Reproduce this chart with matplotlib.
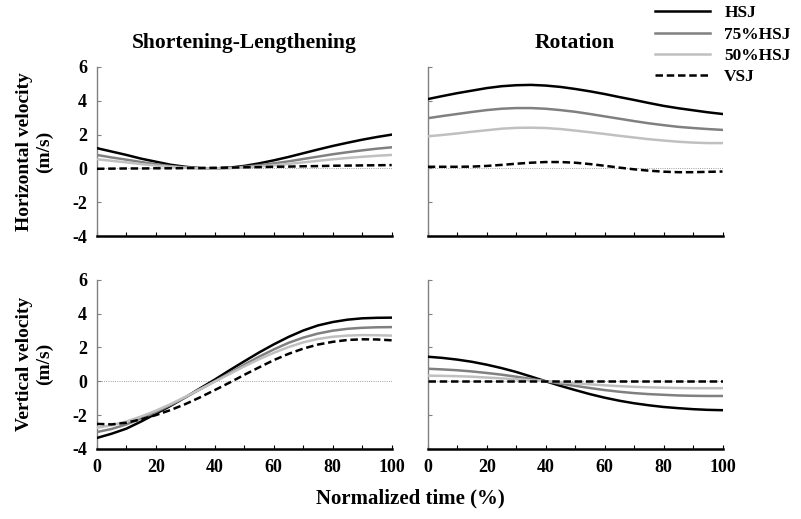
import numpy as np
import matplotlib.pyplot as plt

plt.rcParams['font.family'] = ['Liberation Serif', 'DejaVu Serif']
plt.rcParams['font.weight'] = 'bold'
plt.rcParams['axes.unicode_minus'] = False

# normalized time (%)
t = np.arange(0, 101, 5)

# horizontal velocity, shortening-lengthening (m/s)
h_sl_hsj = [1.2, 1.0, 0.8, 0.58, 0.4, 0.22, 0.1, 0.02, 0.0, 0.05, 0.15, 0.3, 0.48,
            0.68, 0.9, 1.12, 1.33, 1.52, 1.7, 1.86, 2.0]
h_sl_75 = [0.8, 0.65, 0.52, 0.38, 0.25, 0.14, 0.06, 0.01, 0.0, 0.03, 0.1, 0.19, 0.3,
           0.42, 0.56, 0.7, 0.84, 0.96, 1.07, 1.17, 1.25]
h_sl_50 = [0.55, 0.45, 0.36, 0.26, 0.17, 0.1, 0.04, 0.01, 0.0, 0.02, 0.06, 0.12, 0.19,
           0.27, 0.36, 0.45, 0.54, 0.62, 0.69, 0.75, 0.8]
h_sl_vsj = [-0.02, -0.01, 0.0, 0.0, 0.01, 0.01, 0.02, 0.03, 0.04, 0.05, 0.07, 0.08, 0.1,
            0.11, 0.13, 0.14, 0.16, 0.17, 0.18, 0.19, 0.2]

# horizontal velocity, rotation (m/s)
h_rot_hsj = [4.1, 4.28, 4.45, 4.6, 4.75, 4.86, 4.92, 4.94, 4.9, 4.82, 4.7, 4.56, 4.4,
             4.22, 4.05, 3.87, 3.7, 3.56, 3.44, 3.32, 3.22]
h_rot_75 = [2.97, 3.1, 3.22, 3.34, 3.45, 3.53, 3.57, 3.57, 3.53, 3.45, 3.35, 3.22, 3.08,
            2.94, 2.8, 2.67, 2.56, 2.46, 2.39, 2.33, 2.28]
h_rot_50 = [1.9, 1.98, 2.07, 2.17, 2.26, 2.35, 2.4, 2.41, 2.39, 2.33, 2.24, 2.14, 2.04,
            1.93, 1.83, 1.73, 1.65, 1.58, 1.53, 1.5, 1.5]
h_rot_vsj = [0.1, 0.1, 0.1, 0.11, 0.15, 0.21, 0.28, 0.34, 0.38, 0.38, 0.34, 0.26, 0.16,
             0.05, -0.05, -0.13, -0.19, -0.22, -0.22, -0.2, -0.18]

# vertical velocity, shortening-lengthening (m/s)
v_sl_hsj = [-3.35, -3.1, -2.8, -2.38, -1.92, -1.45, -0.95, -0.42, 0.1, 0.65, 1.18, 1.7,
            2.18, 2.62, 3.0, 3.3, 3.5, 3.64, 3.72, 3.75, 3.76]
v_sl_75 = [-3.0, -2.82, -2.55, -2.2, -1.82, -1.4, -0.95, -0.48, 0.0, 0.48, 0.98, 1.45,
           1.88, 2.27, 2.58, 2.82, 2.99, 3.1, 3.16, 3.19, 3.2]
v_sl_50 = [-2.75, -2.6, -2.38, -2.08, -1.74, -1.35, -0.92, -0.47, -0.02, 0.43, 0.88, 1.3,
           1.68, 2.02, 2.3, 2.5, 2.63, 2.7, 2.73, 2.72, 2.7]
v_sl_vsj = [-2.52, -2.55, -2.45, -2.25, -2.0, -1.7, -1.35, -0.95, -0.52, -0.08, 0.38, 0.82,
            1.25, 1.62, 1.93, 2.17, 2.33, 2.44, 2.48, 2.47, 2.42]

# vertical velocity, rotation (m/s)
v_rot_hsj = [1.45, 1.38, 1.28, 1.15, 0.98, 0.78, 0.55, 0.28, 0.0, -0.27, -0.52, -0.76,
             -0.97, -1.15, -1.3, -1.42, -1.52, -1.59, -1.65, -1.69, -1.71]
v_rot_75 = [0.74, 0.7, 0.65, 0.58, 0.49, 0.39, 0.27, 0.14, 0.0, -0.14, -0.27, -0.4,
            -0.52, -0.62, -0.7, -0.76, -0.8, -0.84, -0.86, -0.87, -0.87]
v_rot_50 = [0.33, 0.32, 0.3, 0.27, 0.22, 0.17, 0.12, 0.06, 0.0, -0.06, -0.12, -0.18,
            -0.24, -0.29, -0.33, -0.36, -0.38, -0.4, -0.41, -0.41, -0.41]
v_rot_vsj = [0.0] * 21

labels = ['HSJ', '75%HSJ', '50%HSJ', 'VSJ']
colors = ['black', '#808080', '#c0c0c0', 'black']
styles = ['-', '-', '-', '--']

panels = [
    [h_sl_hsj, h_sl_75, h_sl_50, h_sl_vsj],
    [h_rot_hsj, h_rot_75, h_rot_50, h_rot_vsj],
    [v_sl_hsj, v_sl_75, v_sl_50, v_sl_vsj],
    [v_rot_hsj, v_rot_75, v_rot_50, v_rot_vsj],
]

fs = 14
fig = plt.figure(figsize=(8.01, 5.19), dpi=100)
lefts = [0.121, 0.534]
bottoms = [0.545, 0.135]
w, h = 0.368, 0.326

xticks = np.arange(0, 101, 10)
xlabels = [str(v) if v % 20 == 0 else '' for v in xticks]

for k in range(4):
    row, col = divmod(k, 2)
    ax = fig.add_axes([lefts[col], bottoms[row], w, h])
    ax.axhline(0, color='#808080', lw=0.6, ls=':', zorder=1)
    for y, c, s, lab in zip(panels[k], colors, styles, labels):
        ax.plot(t, y, color=c, ls=s, lw=1.8, label=lab, zorder=3,
                dashes=(3, 1.5) if s == '--' else (None, None))
    ax.set_xlim(0, 100)
    ax.set_ylim(-4, 6)
    ax.set_yticks(np.arange(-4, 7, 2))
    ax.set_xticks(xticks)
    for s in ['top', 'right']:
        ax.spines[s].set_visible(False)
    ax.spines['left'].set_color('#808080')
    ax.spines['left'].set_linewidth(1.0)
    ax.spines['bottom'].set_linewidth(1.8)
    ax.tick_params(direction='in', length=3, labelsize=13, pad=7)
    ax.tick_params(axis='y', colors='#808080', labelcolor='black')
    if row == 1:
        ax.set_xticklabels(xlabels)
    else:
        ax.set_xticklabels([])
    if col == 1:
        ax.set_yticklabels([])
    if row == 0:
        ax.set_title(['Shortening-Lengthening', 'Rotation'][col],
                     fontsize=15.5, fontweight='bold', pad=14)
    if col == 0:
        ax.set_ylabel(['Horizontal velocity\n(m/s)', 'Vertical velocity\n(m/s)'][row],
                      fontsize=fs, fontweight='bold', labelpad=14)
    if k == 0:
        handles, hl = ax.get_legend_handles_labels()

fig.text(0.512, 0.03, 'Normalized time (%)', ha='center', fontsize=fs + 1,
         fontweight='bold')
fig.legend(handles, hl, loc='upper right', bbox_to_anchor=(1.0, 1.01), frameon=False,
           fontsize=12.5, handlelength=3.2, labelspacing=0.3, borderaxespad=0.2)

fig.savefig('out.png', dpi=100)
